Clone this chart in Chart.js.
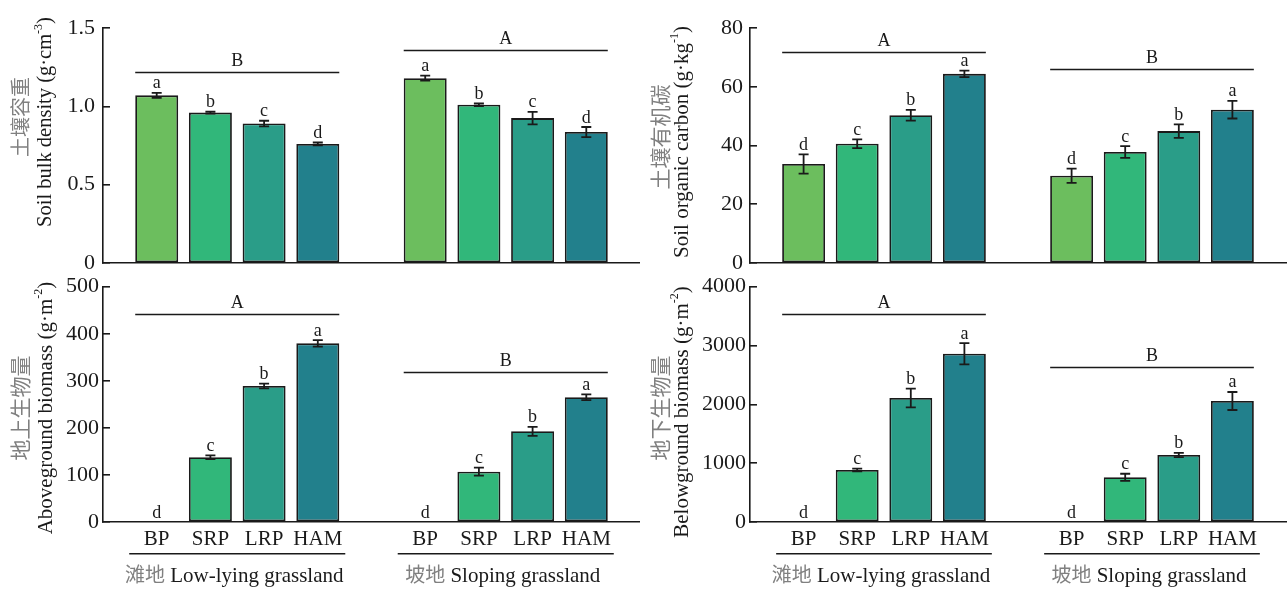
<!DOCTYPE html>
<html><head><meta charset="utf-8">
<script src="https://cdn.jsdelivr.net/npm/chart.js@4.4.1/dist/chart.umd.min.js"></script>
<style>
html,body{margin:0;padding:0;background:#fff;}
#wrap{position:relative;width:1288px;height:589px;overflow:hidden;background:#fff;}
canvas{position:absolute;display:block;}
</style></head><body>
<div id="wrap">
<canvas id="c1" width="640" height="270" style="left:0;top:0"></canvas>
<canvas id="c2" width="648" height="270" style="left:640px;top:0"></canvas>
<canvas id="c3" width="640" height="319" style="left:0;top:270px"></canvas>
<canvas id="c4" width="648" height="319" style="left:640px;top:270px"></canvas>
</div>
<script>
// ---------- data ----------
const categories = ['BP', 'SRP', 'LRP', 'HAM'];
const groupZh = ['滩地', '坡地'];
const groupEn = ['Low-lying grassland', 'Sloping grassland'];
const barColors = ['#6cbe5e', '#31b77a', '#2a9d88', '#22808c'];

// Soil bulk density (g·cm-3)
const bulkLow = [1.07, 0.96, 0.89, 0.76];
const bulkLowErr = [0.016, 0.006, 0.018, 0.009];
const bulkSlope = [1.18, 1.01, 0.925, 0.836];
const bulkSlopeErr = [0.016, 0.008, 0.040, 0.032];
const bulkLettersLow = ['a', 'b', 'c', 'd'];
const bulkLettersSlope = ['a', 'b', 'c', 'd'];
const bulkGroupLetters = ['B', 'A'];
const bulkGroupLineAt = [1.22, 1.36];
const bulkTicks = [0, 0.5, 1.0, 1.5];
const bulkTickLabels = ['0', '0.5', '1.0', '1.5'];

// Soil organic carbon (g·kg-1)
const socLow = [33.7, 40.6, 50.3, 64.4];
const socLowErr = [3.3, 1.5, 1.8, 1.1];
const socSlope = [29.7, 37.8, 44.9, 52.2];
const socSlopeErr = [2.4, 2.0, 2.3, 3.0];
const socLettersLow = ['d', 'c', 'b', 'a'];
const socLettersSlope = ['d', 'c', 'b', 'a'];
const socGroupLetters = ['A', 'B'];
const socGroupLineAt = [72, 66];
const socTicks = [0, 20, 40, 60, 80];
const socTickLabels = ['0', '20', '40', '60', '80'];

// Aboveground biomass (g·m-2)
const agbLow = [0, 137.5, 289, 379.6];
const agbLowErr = [0, 4, 5, 7];
const agbSlope = [0, 107, 192.7, 265];
const agbSlopeErr = [0, 8.5, 9.5, 6];
const agbLettersLow = ['d', 'c', 'b', 'a'];
const agbLettersSlope = ['d', 'c', 'b', 'a'];
const agbGroupLetters = ['A', 'B'];
const agbGroupLineAt = [443, 319];
const agbTicks = [0, 100, 200, 300, 400, 500];
const agbTickLabels = ['0', '100', '200', '300', '400', '500'];

// Belowground biomass (g·m-2)
const bgbLow = [0, 884, 2108, 2861];
const bgbLowErr = [0, 25, 160, 180];
const bgbSlope = [0, 760, 1139, 2057];
const bgbSlopeErr = [0, 60, 35, 153];
const bgbLettersLow = ['d', 'c', 'b', 'a'];
const bgbLettersSlope = ['d', 'c', 'b', 'a'];
const bgbGroupLetters = ['A', 'B'];
const bgbGroupLineAt = [3540, 2630];
const bgbTicks = [0, 1000, 2000, 3000, 4000];
const bgbTickLabels = ['0', '1000', '2000', '3000', '4000'];

// ---------- drawing ----------
const SERIF = '"Liberation Serif", "Times New Roman", "Noto Sans CJK SC", serif';
const CJK = '"Noto Sans CJK SC", sans-serif';
const INK = '#1a1a1a';
const ZH_INK = '#808080';

function drawRotated(ctx, x, y, segs) {
  ctx.save();
  ctx.translate(x, y);
  ctx.rotate(-Math.PI / 2);
  let total = 0;
  segs.forEach(s => { ctx.font = s.font; s.w = ctx.measureText(s.text).width; total += s.w; });
  let cx = -total / 2;
  ctx.textAlign = 'left';
  ctx.textBaseline = 'middle';
  segs.forEach(s => {
    ctx.font = s.font; ctx.fillStyle = s.color;
    ctx.fillText(s.text, cx, s.dy || 0);
    cx += s.w;
  });
  ctx.restore();
}

function buildChart(id, spec) {
  const labels = ['', ...categories, '', ...categories, ''];
  const values = [null, ...spec.low, null, ...spec.slope, null];
  const errs = [null, ...spec.lowErr, null, ...spec.slopeErr, null];
  const letters = [null, ...spec.lettersLow, null, ...spec.lettersSlope, null];
  const bg = [null, ...barColors, null, ...barColors, null];

  const annot = {
    id: 'annot',
    afterDatasetsDraw(chart) {
      const { ctx, scales: { x, y }, chartArea } = chart;
      const meta = chart.getDatasetMeta(0);
      ctx.save();
      ctx.strokeStyle = INK;
      ctx.fillStyle = INK;
      // error bars + letters
      meta.data.forEach((bar, i) => {
        const v = values[i];
        if (v == null) return;
        const e = errs[i] || 0;
        const { x: cx } = bar.getProps(['x'], true);
        const yTop = y.getPixelForValue(v + e);
        if (e > 0) {
          const yBot = y.getPixelForValue(v - e);
          ctx.lineWidth = 1.8;
          ctx.beginPath();
          ctx.moveTo(cx, yTop); ctx.lineTo(cx, yBot);
          ctx.moveTo(cx - 5, yTop); ctx.lineTo(cx + 5, yTop);
          ctx.moveTo(cx - 5, yBot); ctx.lineTo(cx + 5, yBot);
          ctx.stroke();
        }
        ctx.font = '18px ' + SERIF;
        ctx.textAlign = 'center';
        ctx.textBaseline = 'alphabetic';
        ctx.fillText(letters[i], cx, yTop - 4.5);
      });
      // group significance lines
      [0, 1].forEach(g => {
        const first = meta.data[g * 5 + 1].getProps(['x', 'width'], true);
        const last = meta.data[g * 5 + 4].getProps(['x', 'width'], true);
        const l = first.x - first.width / 2;
        const r = last.x + last.width / 2;
        const yy = Math.round(y.getPixelForValue(spec.groupLineAt[g])) + 0.5;
        ctx.lineWidth = 1.6;
        ctx.beginPath(); ctx.moveTo(l, yy); ctx.lineTo(r, yy); ctx.stroke();
        ctx.font = '18px ' + SERIF;
        ctx.textAlign = 'center';
        ctx.textBaseline = 'alphabetic';
        ctx.fillText(spec.groupLetters[g], (l + r) / 2, yy - 7);
        if (spec.bottom) {
          const uy = chartArea.bottom + 31.7;
          ctx.lineWidth = 1.4;
          ctx.beginPath(); ctx.moveTo(l - 6, uy); ctx.lineTo(r + 6, uy); ctx.stroke();
          const segs = [
            { text: groupZh[g], font: '20px ' + CJK, color: ZH_INK },
            { text: ' ' + groupEn[g], font: '21px ' + SERIF, color: INK }
          ];
          let total = 0;
          segs.forEach(s => { ctx.font = s.font; s.w = ctx.measureText(s.text).width; total += s.w; });
          let sx = (l + r) / 2 - total / 2 - 3;
          ctx.textAlign = 'left';
          segs.forEach(s => {
            ctx.font = s.font; ctx.fillStyle = s.color;
            ctx.fillText(s.text, sx, chartArea.bottom + 59.5);
            sx += s.w;
          });
          ctx.fillStyle = INK;
        }
      });
      ctx.restore();
    },
    afterDraw(chart) {
      const { ctx } = chart;
      const t = spec.title;
      drawRotated(ctx, t.zhX, t.zhY, [{ text: t.zh, font: t.zhSize + 'px ' + CJK, color: ZH_INK }]);
      drawRotated(ctx, t.enX, t.enY, [
        { text: t.en, font: t.enSize + 'px ' + SERIF, color: INK },
        { text: t.sup, font: '12px ' + SERIF, color: INK, dy: -7 },
        { text: ')', font: t.enSize + 'px ' + SERIF, color: INK }
      ]);
    }
  };

  return new Chart(document.getElementById(id), {
    type: 'bar',
    data: {
      labels,
      datasets: [{
        data: values,
        backgroundColor: bg,
        borderColor: INK,
        borderWidth: 1.8,
        borderSkipped: false,
        barPercentage: 0.8,
        categoryPercentage: 1.0
      }]
    },
    options: {
      responsive: false,
      animation: false,
      devicePixelRatio: 1,
      layout: { padding: { left: 0, right: spec.padRight, top: spec.padTop, bottom: 0 } },
      plugins: { legend: { display: false }, tooltip: { enabled: false } },
      scales: {
        x: {
          offset: false,
          grid: { display: false },
          border: { display: true, color: INK, width: 1.6 },
          ticks: {
            display: !!spec.bottom,
            autoSkip: false, maxRotation: 0, minRotation: 0,
            padding: -3,
            color: INK,
            font: { family: SERIF, size: 21 }
          },
          afterFit: s => {
            s.height = spec.bottom ? 67 : 7;
            s.paddingLeft = 0; s.paddingRight = 0;
          }
        },
        y: {
          min: spec.ticks[0],
          max: spec.ticks[spec.ticks.length - 1],
          grid: { display: true, drawOnChartArea: false, drawTicks: true, tickLength: -7, color: INK, lineWidth: 1.6 },
          border: { display: true, color: INK, width: 1.6 },
          afterBuildTicks: s => { s.ticks = spec.ticks.map(v => ({ value: v })); },
          ticks: {
            padding: spec.tickGap + 7,
            color: INK,
            font: { family: SERIF, size: 22 },
            callback: (v, i) => spec.tickLabels[i]
          },
          afterFit: s => {
            s.width = spec.axisLeft;
            s.paddingTop = 0; s.paddingBottom = 0;
          }
        }
      }
    },
    plugins: [annot]
  });
}

buildChart('c1', {
  low: bulkLow, lowErr: bulkLowErr, slope: bulkSlope, slopeErr: bulkSlopeErr,
  lettersLow: bulkLettersLow, lettersSlope: bulkLettersSlope,
  groupLetters: bulkGroupLetters, groupLineAt: bulkGroupLineAt,
  ticks: bulkTicks, tickLabels: bulkTickLabels, tickGap: 8,
  axisLeft: 103, padRight: 0, padTop: 28, bottom: false,
  title: { zh: '土壤容重', zhX: 20, zhY: 117, zhSize: 20, en: 'Soil bulk density (g·cm', sup: '-3', enX: 46, enY: 122, enSize: 20.5 }
});
buildChart('c2', {
  low: socLow, lowErr: socLowErr, slope: socSlope, slopeErr: socSlopeErr,
  lettersLow: socLettersLow, lettersSlope: socLettersSlope,
  groupLetters: socGroupLetters, groupLineAt: socGroupLineAt,
  ticks: socTicks, tickLabels: socTickLabels, tickGap: 7,
  axisLeft: 110, padRight: 2, padTop: 28, bottom: false,
  title: { zh: '土壤有机碳', zhX: 20, zhY: 137, zhSize: 21, en: 'Soil organic carbon (g·kg', sup: '-1', enX: 42, enY: 142, enSize: 21 }
});
buildChart('c3', {
  low: agbLow, lowErr: agbLowErr, slope: agbSlope, slopeErr: agbSlopeErr,
  lettersLow: agbLettersLow, lettersSlope: agbLettersSlope,
  groupLetters: agbGroupLetters, groupLineAt: agbGroupLineAt,
  ticks: agbTicks, tickLabels: agbTickLabels, tickGap: 4,
  axisLeft: 103, padRight: 0, padTop: 16.7, bottom: true,
  title: { zh: '地上生物量', zhX: 20, zhY: 138, zhSize: 21, en: 'Aboveground biomass (g·m', sup: '-2', enX: 46, enY: 138, enSize: 21 }
});
buildChart('c4', {
  low: bgbLow, lowErr: bgbLowErr, slope: bgbSlope, slopeErr: bgbSlopeErr,
  lettersLow: bgbLettersLow, lettersSlope: bgbLettersSlope,
  groupLetters: bgbGroupLetters, groupLineAt: bgbGroupLineAt,
  ticks: bgbTicks, tickLabels: bgbTickLabels, tickGap: 4,
  axisLeft: 110, padRight: 2, padTop: 16.7, bottom: true,
  title: { zh: '地下生物量', zhX: 20, zhY: 138, zhSize: 21, en: 'Belowground biomass (g·m', sup: '-2', enX: 42, enY: 142, enSize: 21 }
});
</script>
</body></html>
